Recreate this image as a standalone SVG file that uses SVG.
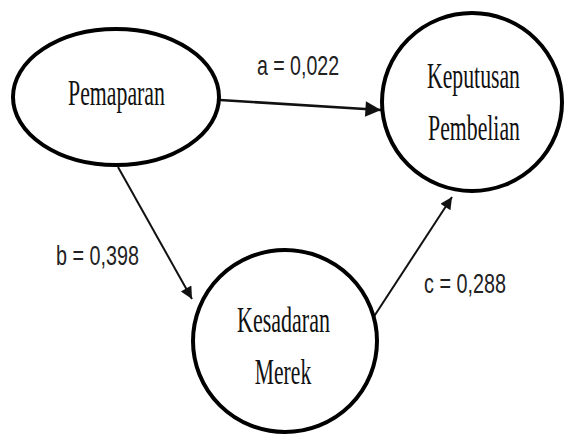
<svg xmlns="http://www.w3.org/2000/svg" width="566" height="435" viewBox="0 0 566 435">
<style>
.node{fill:#fff;stroke:#000;stroke-width:4}
.nt{font-family:"Liberation Serif","Times New Roman",serif;font-size:36px;fill:#111;text-anchor:middle}
.lbl{font-family:"Liberation Sans",Arial,sans-serif;font-size:28px;fill:#222;text-anchor:middle}
.edge{stroke:#111;stroke-width:2;fill:none}
</style>
<defs>
<marker id="ah" viewBox="0 0 10 10" refX="10" refY="5" markerWidth="7.5" markerHeight="6" markerUnits="strokeWidth" orient="auto">
<path d="M0,0 L10,5 L0,10 z" fill="#111"/>
</marker>
</defs>
<rect width="566" height="435" fill="#fff"/>
<g id="connectors">
<line class="edge" x1="220" y1="100" x2="381" y2="110" style="stroke-width:2.6" marker-end="url(#ah)"/>
<line class="edge" x1="118" y1="167" x2="192" y2="299" marker-end="url(#ah)"/>
<line class="edge" x1="373" y1="318" x2="452" y2="197" marker-end="url(#ah)"/>
</g>
<g id="labels">
<text class="lbl" transform="translate(298,75) scale(0.70,1)">a = 0,022</text>
<text class="lbl" transform="translate(97.5,265) scale(0.706,1)">b = 0,398</text>
<text class="lbl" transform="translate(465,293) scale(0.707,1)">c = 0,288</text>
</g>
<g id="pemaparan">
<ellipse class="node" cx="116" cy="97" rx="103" ry="68"/>
<text class="nt" transform="translate(116.5,105) scale(0.606,1)">Pemaparan</text>
</g>
<g id="keputusan">
<ellipse class="node" cx="472" cy="102" rx="90" ry="89"/>
<text class="nt" transform="translate(473.5,88) scale(0.604,1)">Keputusan</text>
<text class="nt" transform="translate(474,140) scale(0.605,1)">Pembelian</text>
</g>
<g id="kesadaran">
<ellipse class="node" cx="285" cy="341" rx="92" ry="91"/>
<text class="nt" transform="translate(283.5,332) scale(0.612,1)">Kesadaran</text>
<text class="nt" transform="translate(283,384) scale(0.6,1)">Merek</text>
</g>
</svg>
